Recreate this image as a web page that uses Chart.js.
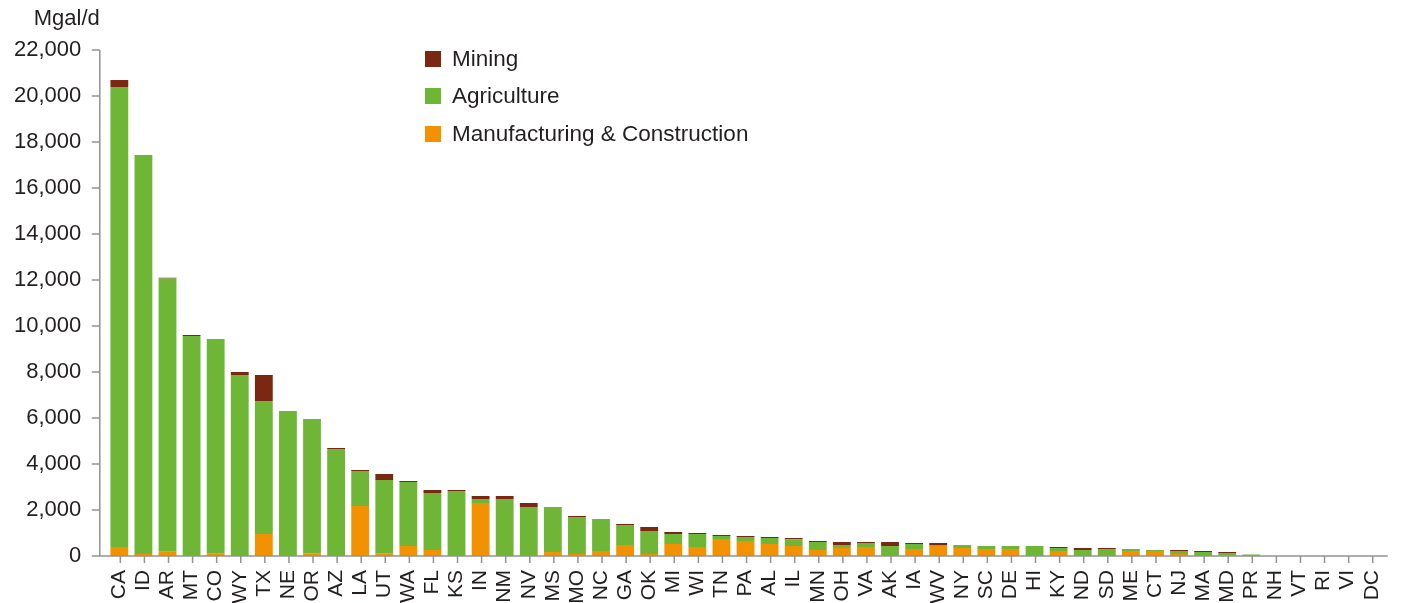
<!DOCTYPE html>
<html>
<head>
<meta charset="utf-8">
<script src="https://cdn.jsdelivr.net/npm/chart.js@4"></script>
<style>
  body { margin: 0; background: #fff; }
  #wrap { position: relative; width: 1411px; height: 603px; }
  #legend { position: absolute; left: 425px; top: 40px; font-family: 'Liberation Sans', Arial, sans-serif; font-size: 22.5px; color: #231f20; }
  #legend .item { display: flex; align-items: center; height: 37.5px; }
  #legend .box { width: 16px; height: 16px; margin-right: 11px; }
</style>
</head>
<body>
<div id="wrap">
  <canvas id="chart"></canvas>
  <div id="legend"></div>
</div>
<script>
const states = ['CA','ID','AR','MT','CO','WY','TX','NE','OR','AZ','LA','UT','WA','FL','KS','IN','NM','NV','MS','MO','NC','GA','OK','MI','WI','TN','PA','AL','IL','MN','OH','VA','AK','IA','WV','NY','SC','DE','HI','KY','ND','SD','ME','CT','NJ','MA','MD','PR','NH','VT','RI','VI','DC'];

// Mgal/d par secteur
const manufacturing = [390,90,190,0,100,0,955,0,115,0,2175,115,435,260,0,2300,0,0,175,85,215,480,85,520,390,740,650,520,435,260,350,390,0,305,435,350,305,305,0,215,0,0,215,215,85,0,10,0,0,0,0,0,0];
const agriculture = [20000,17340,11870,9565,9335,7870,5785,6300,5840,4650,1520,3190,2780,2480,2825,175,2480,2130,1955,1610,1395,870,1000,435,565,130,175,260,290,350,130,175,435,215,45,130,130,130,435,130,260,305,90,45,130,175,120,70,0,0,0,0,0];
const mining = [310,0,40,45,0,130,1130,0,0,45,45,260,45,130,45,130,130,175,0,45,0,45,175,85,45,45,45,45,60,45,130,45,175,45,85,0,0,0,0,45,85,45,0,0,45,45,45,0,0,0,0,0,0];

const yTicks = [0,2000,4000,6000,8000,10000,12000,14000,16000,18000,20000,22000];

const series = [
    { label: 'Manufacturing & Construction', data: manufacturing, color: '#f39200' },
    { label: 'Agriculture', data: agriculture, color: '#70b636' },
    { label: 'Mining', data: mining, color: '#7b2812' },
];

const textColor = '#231f20';
const axisColor = '#939393';
const fontFamily = "'Liberation Sans', Arial, sans-serif";

// Axes dessinés à la main (décalés à gauche de la zone des barres)
const axesPlugin = {
    id: 'axes',
    afterDraw(chart) {
        const { ctx, chartArea, scales } = chart;
        const x0 = chartArea.left - 7.5;
        const y0 = scales.y.getPixelForValue(0);
        const yTop = scales.y.getPixelForValue(22000);
        ctx.save();
        ctx.strokeStyle = axisColor;
        ctx.lineWidth = 1.5;
        ctx.beginPath();
        ctx.moveTo(x0, yTop);
        ctx.lineTo(x0, y0);
        ctx.moveTo(x0 - 8, y0);
        ctx.lineTo(chartArea.right + 4, y0);
        yTicks.forEach(v => {
            const y = scales.y.getPixelForValue(v);
            ctx.moveTo(x0 - 8, y);
            ctx.lineTo(x0, y);
        });
        states.forEach((s, i) => {
            const x = scales.x.getPixelForValue(i) + 1;
            ctx.moveTo(x, y0);
            ctx.lineTo(x, y0 + 7);
        });
        ctx.stroke();

        ctx.fillStyle = textColor;
        ctx.font = '22px ' + fontFamily;
        ctx.textAlign = 'right';
        ctx.textBaseline = 'alphabetic';
        ctx.fillText('Mgal/d', x0, 25);
        ctx.restore();
    }
};

new Chart(document.getElementById('chart'), {
    type: 'bar',
    data: {
        labels: states,
        datasets: series.map(s => ({
            label: s.label,
            data: s.data,
            backgroundColor: s.color,
            borderWidth: 0,
            barPercentage: 0.74,
            categoryPercentage: 1,
        }))
    },
    options: {
        responsive: true,
        maintainAspectRatio: false,
        animation: false,
        layout: { padding: { top: 50, right: 9.8, left: 0, bottom: 0 } },
        plugins: {
            legend: { display: false },
            tooltip: { enabled: false }
        },
        scales: {
            x: {
                stacked: true,
                grid: { display: false, drawTicks: false },
                border: { display: false },
                afterFit: s => { s.height = 47; },
                ticks: {
                    color: textColor,
                    font: { family: "'Liberation Sans Narrow', 'Liberation Sans', Arial, sans-serif", size: 21 },
                    minRotation: 90,
                    maxRotation: 90,
                    autoSkip: false,
                    padding: 14
                }
            },
            y: {
                stacked: true,
                min: 0,
                max: 22000,
                afterFit: s => { s.width = 107.3; },
                grid: { display: false, drawTicks: false },
                border: { display: false },
                ticks: {
                    stepSize: 2000,
                    color: textColor,
                    font: { family: fontFamily, size: 22 },
                    padding: 26
                }
            }
        }
    },
    plugins: [axesPlugin]
});

// Légende HTML (ordre inverse : Mining en haut)
const legend = document.getElementById('legend');
series.slice().reverse().forEach(s => {
    const item = document.createElement('div');
    item.className = 'item';
    item.innerHTML = `<span class="box" style="background:${s.color}"></span><span>${s.label}</span>`;
    legend.appendChild(item);
});
</script>
</body>
</html>
